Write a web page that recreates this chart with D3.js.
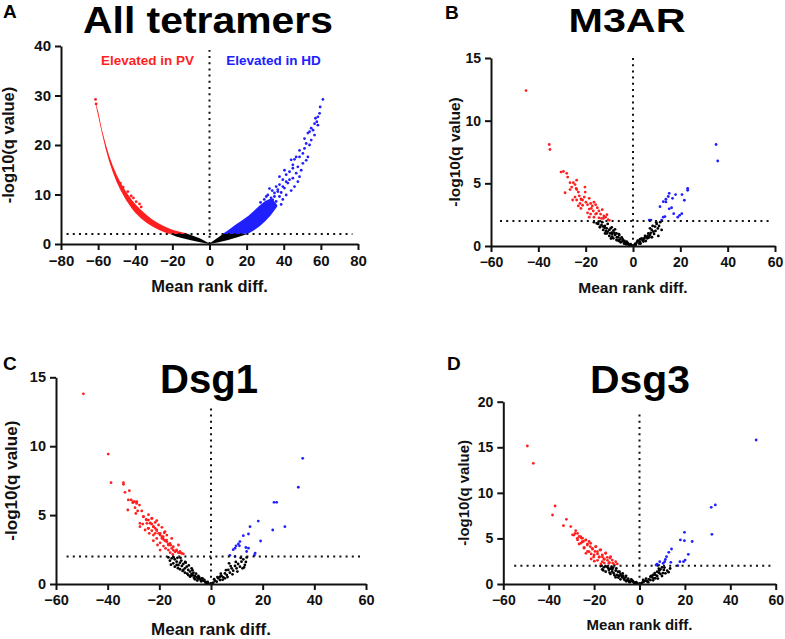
<!DOCTYPE html>
<html>
<head>
<meta charset="utf-8">
<script src="https://cdn.jsdelivr.net/npm/d3@7"></script>
<style>
  body { margin: 0; background: #fff; }
  svg { display: block; font-family: "Liberation Sans", Arial, sans-serif; font-weight: bold; }
</style>
</head>
<body>
<svg id="fig" width="785" height="639"></svg>
<script>
// tick values
const xTicksA = [-80, -60, -40, -20, 0, 20, 40, 60, 80];
const yTicksA = [0, 10, 20, 30, 40];
const xTicksBCD = [-60, -40, -20, 0, 20, 40, 60];
const yTicks15 = [0, 5, 10, 15];
const yTicks20 = [0, 5, 10, 15, 20];

const RED = "#ff1f1f", BLUE = "#2020ff", BLACK = "#000";

// panel A: dense bands, [x, low, high]
const aBlackBand = [[-21, 1.95, 2], [-18, 1.5, 2], [-15, 1.2, 2], [-11.7, 0.9, 2], [-10, 0.75, 1.8], [-5, 0.35, 1.1],
  [0, 0, 0.1], [5, 0.35, 1.4], [7.2, 0.55, 2], [10, 0.8, 2], [15, 1.35, 2], [20, 1.95, 2]];
const aRedBand = [[-61.2, 28.0, 28.4], [-60, 25.9, 26.8], [-58, 22.5, 23.2], [-56, 19.3, 20.3], [-54, 16.6, 17.8],
  [-52, 14.4, 15.7], [-50, 12.5, 14.0], [-48, 10.9, 12.5], [-45, 8.9, 10.6], [-42, 7.2, 9.0], [-40, 6.3, 8.1],
  [-37, 5.2, 6.9], [-34, 4.3, 5.9], [-31, 3.6, 5.0], [-28, 3.0, 4.3], [-25, 2.5, 3.7], [-22, 2.05, 3.2],
  [-20, 2.0, 2.9], [-16, 2.0, 2.5], [-11.5, 2.0, 2.05]];
const aBlueBand = [[7.2, 2, 2.05], [10, 2, 2.8], [14, 2, 3.9], [18, 2, 4.9], [21, 2.1, 5.7], [24, 2.8, 6.7],
  [27, 3.6, 7.8], [30, 4.6, 8.7], [33, 5.8, 9.2], [35, 6.8, 8.6], [36.5, 7.6, 7.9]];
const aRedPoints = [[-61.4, 29.2], [-61.1, 28.3], [-48, 12.3], [-44, 10.6], [-42.2, 9.7], [-39.5, 8.55],
  [-37.7, 8.1], [-36.8, 7.5], [-46.5, 11.5], [-41, 9.3]];
const aBluePoints = [[61.1, 29.2], [59.6, 27.7], [59.3, 26.4], [57.8, 24.7], [56.6, 24.3], [58.4, 24.0],
  [55.8, 23.0], [53.9, 22.7], [56.6, 22.0], [53, 22.4], [54.8, 21.0], [52.1, 20.3], [51.2, 19.3], [48.5, 18.9],
  [53, 17.6], [52.1, 16.9], [45.8, 17.1], [50.3, 16.3], [47.6, 15.6], [44.9, 15.3], [49.4, 14.9], [43.1, 14.6],
  [46.7, 14.3], [41.3, 14.0], [48.5, 13.6], [44.9, 13.3], [39.5, 13.0], [47.6, 12.6], [42.2, 12.3], [37.7, 12.0],
  [45.8, 11.6], [40.4, 11.3], [36.8, 11.0], [44, 10.8], [38.6, 10.4], [35, 10.3], [41.3, 9.9], [37.7, 9.6],
  [33.2, 9.3], [39.5, 9.0], [35.9, 8.6], [30.5, 8.3], [38.6, 8.0], [44.9, 16.0], [43.1, 13.0], [35.9, 11.6],
  [46.7, 17.6], [51.2, 21.3], [53.9, 20.0], [32.3, 7.5], [28.7, 7.2], [34.1, 8.9], [31.4, 9.9], [35.0, 9.6],
  [36.8, 10.6], [32.3, 11.2], [39.5, 11.6], [41.3, 12.6], [37.7, 13.6], [40.4, 14.9], [44.0, 17.0], [48.5, 17.6],
  [50.3, 18.3], [54.8, 23.4], [57.1, 25.4], [58.4, 25.7], [29.5, 9.0], [27.5, 8.4], [33.8, 10.8], [30.6, 9.6]];

// panel B (M3AR)
const bRed = [[-45.2, 12.4], [-35.4, 8.1], [-35.1, 7.7], [-30.4, 5.9], [-29.4, 5.95], [-28.0, 5.8], [-27.6, 5.5],
  [-28.7, 4.25], [-26.6, 5.05], [-25.2, 5.05], [-25.9, 4.7], [-24.5, 4.9], [-26.6, 4.5], [-23.8, 4.5], [-23.1, 4.3],
  [-24.5, 3.9], [-25.5, 3.67], [-22.7, 4.0], [-22.0, 3.75], [-23.8, 3.67], [-21.3, 3.67], [-20.6, 3.9], [-22.4, 3.4],
  [-19.9, 3.5], [-23.1, 3.2], [-19.2, 3.3], [-18.5, 3.8], [-17.9, 3.4], [-21.3, 3.25], [-17.2, 3.2], [-16.5, 3.5],
  [-15.8, 3.3], [-18.5, 2.95], [-16.8, 2.8], [-15.1, 3.05], [-14.4, 2.8], [-17.9, 2.55], [-15.8, 2.55], [-13.7, 2.55],
  [-13.0, 2.9], [-12.3, 2.4], [-16.5, 2.3], [-14.4, 2.25], [-11.6, 2.3], [-18.5, 2.3], [-22.0, 3.0], [-20.2, 4.3],
  [-19.2, 2.65], [-23.8, 5.25], [-20.3, 4.7], [-10.5, 2.1], [-11, 2.5], [-12.5, 2.2], [-10, 2.05], [-15.4, 2.6],
  [-13.3, 2.2], [-17.6, 3.0], [-21.8, 3.7], [-24, 4.6]];
const bBlack = [[-14.7, 1.76], [-13.3, 1.68], [-11.9, 1.6], [-11.1, 1.41], [-14.0, 1.49], [-10.7, 1.76], [-10.0, 1.28],
  [-12.6, 1.28], [-9.0, 1.06], [-8.3, 1.22], [-11.1, 0.99], [-7.6, 0.88], [-10.0, 0.8], [-7.0, 1.0], [-6.2, 0.69],
  [-8.3, 0.61], [-5.5, 0.53], [-4.8, 0.69], [-4.1, 0.43], [-7.0, 0.48], [-3.4, 0.27], [-2.7, 0.35], [-2.0, 0.16],
  [-1.3, 0.08], [-4.8, 0.35], [-2.7, 0.13], [-5.8, 0.88], [-9.0, 1.49], [-7.6, 1.33], [-12.6, 1.55], [-10.7, 1.14],
  [-15.3, 1.8], [-13.9, 1.55], [-9.7, 1.01], [-16.5, 1.9], [-6.5, 0.45], [-3.8, 0.2], [-0.6, 0.03], [-8.8, 0.95],
  [-5.2, 0.3], [-13, 1.9], [-12, 1.45], [-11.5, 1.2], [-9.5, 1.4], [-8.8, 0.75], [-7.9, 1.05], [-6.8, 0.7], [-6, 0.95],
  [-5.9, 0.4], [-4.4, 0.55], [-3.6, 0.4], [-3.1, 0.15], [-2.3, 0.25], [-1.7, 0.1], [-1, 0.15], [-9.3, 0.6],
  [-11.8, 1.0], [-14.5, 1.95],
  [0.85, 0.16], [1.55, 0.27], [2.25, 0.43], [2.96, 0.35], [3.66, 0.61], [4.4, 0.48], [5.1, 0.8],
  [5.8, 0.69], [6.5, 1.0], [7.2, 0.88], [7.9, 1.28], [8.6, 1.14], [7.2, 1.41], [9.3, 1.55], [10.0, 1.76], [8.3, 1.6],
  [12.1, 1.28], [10.7, 0.8], [4.4, 0.35], [6.1, 0.61], [6.9, 0.69], [8.9, 0.96], [0.4, 0.05], [1.2, 0.1], [3.2, 0.2],
  [9.8, 1.9], [11, 1.6], [1.9, 0.4], [2.6, 0.2], [3.9, 0.5], [4.8, 0.62], [5.4, 0.4], [6.2, 0.8], [7.5, 1.05], [8, 0.7],
  [9.5, 1.2], [10.5, 1.4], [11.5, 1.9], [3, 0.55]];
const bBlue = [[6.9, 2.07], [7.6, 2.07], [11.4, 3.14], [12.8, 3.54], [13.9, 3.73], [13.9, 3.52], [14.9, 3.95],
  [15.3, 4.2], [16.7, 3.8], [18.0, 4.1], [20.7, 4.1], [21.7, 3.65], [23.1, 4.45], [23.1, 4.6], [12.8, 2.3],
  [12.1, 2.07], [13.5, 2.35], [15.3, 2.97], [16.3, 3.05], [17.2, 2.58], [18.9, 2.3], [19.7, 2.45], [20.6, 2.58],
  [35.1, 8.1], [35.8, 6.78]];

// panel C (Dsg1)
const cRed = [[-49.4, 13.8], [-39.8, 9.43], [-38.7, 7.35], [-33.9, 7.35], [-33.9, 7.23], [-33.3, 6.65], [-31.6, 6.77],
  [-32.0, 6.1], [-30.9, 6.1], [-29.6, 5.97], [-28.7, 5.97], [-30.3, 5.9], [-32.2, 5.37], [-29.4, 5.54], [-27.7, 5.73],
  [-26.8, 5.3], [-28.4, 5.3], [-26.1, 4.89], [-25.1, 4.68], [-24.2, 4.64], [-23.5, 4.44], [-24.8, 4.4], [-22.9, 4.35],
  [-26.4, 4.35], [-22.3, 4.16], [-24.2, 4.04], [-21.6, 4.04], [-25.5, 3.92], [-21.0, 3.87], [-22.9, 3.87], [-20.3, 3.68],
  [-22.3, 3.55], [-19.7, 3.55], [-19.0, 3.43], [-21.0, 3.31], [-18.4, 3.24], [-22.3, 3.14], [-17.8, 3.14], [-19.7, 2.99],
  [-17.1, 3.06], [-16.5, 2.89], [-18.4, 2.75], [-15.6, 2.82], [-17.6, 2.58], [-15.2, 2.58], [-16.5, 2.46], [-14.6, 2.46],
  [-13.9, 2.34], [-15.8, 2.27], [-13.3, 2.41], [-12.6, 2.27], [-12.0, 2.36], [-11.3, 2.22], [-14.8, 2.14], [-19.7, 2.46],
  [-20.7, 2.83], [-21.6, 4.47], [-21.0, 4.6], [-19.0, 4.11], [-24.2, 5.03], [-22.9, 4.76], [-27.5, 4.16], [-29.1, 5.12],
  [-23.9, 3.68], [-17.1, 3.55], [-18.1, 3.72], [-24.9, 4.64], [-23.6, 4.4], [-22.3, 4.16], [-21.0, 3.92], [-19.7, 3.68],
  [-18.5, 3.43], [-17.2, 3.19], [-15.9, 2.95], [-14.6, 2.71], [-13.3, 2.47], [-12.0, 2.27], [-10.7, 2.18], [-24.3, 4.04],
  [-21.6, 3.68], [-19.0, 3.31], [-16.5, 2.83], [-13.9, 2.35], [-26.2, 4.88], [-27.5, 4.4], [-22.9, 4.76], [-20.3, 4.28],
  [-17.8, 3.8], [-15.2, 3.31], [-12.6, 2.83], [-28.8, 5.85], [-30.1, 5.97]];
const cBlack = [[-16.5, 1.93], [-15.2, 1.86], [-14.0, 1.79], [-15.9, 1.69], [-13.3, 1.62], [-14.6, 1.5], [-12.0, 1.55],
  [-12.6, 1.38], [-11.3, 1.31], [-10.7, 1.45], [-14.0, 1.26], [-10.1, 1.14], [-9.4, 1.26], [-12.0, 1.07], [-8.8, 1.02],
  [-8.1, 0.9], [-10.1, 0.82], [-7.5, 0.73], [-6.8, 0.82], [-6.2, 0.58], [-8.8, 0.65], [-5.5, 0.48], [-4.9, 0.58],
  [-4.3, 0.34], [-3.6, 0.41], [-6.2, 0.34], [-3.0, 0.24], [-2.3, 0.17], [-1.7, 0.1], [-1.0, 0.05], [-7.5, 1.14],
  [-10.7, 1.02], [-13.3, 1.38], [-8.1, 0.53], [-11.5, 1.7], [-9.8, 1.55], [-13.0, 1.9], [-7.0, 0.62], [-5.0, 0.4],
  [-15.5, 1.4], [-14.5, 1.95], [-12.8, 1.15], [-11.8, 1.9], [-11, 0.95], [-10, 1.6], [-9.2, 0.75], [-8.6, 1.35],
  [-7.8, 0.6], [-7.2, 1.0], [-6.6, 0.45], [-5.8, 0.75], [-5.3, 0.25], [-4.6, 0.5], [-3.8, 0.2], [-3.3, 0.4],
  [-2.6, 0.3], [-2, 0.08], [-1.3, 0.15],
  [0.9, 0.1], [1.5, 0.24], [2.2, 0.17], [2.8, 0.41], [3.5, 0.29], [4.1, 0.58], [4.8, 0.48], [5.4, 0.77], [6.1, 0.65],
  [6.7, 1.02], [7.3, 0.82], [8.0, 1.14], [8.6, 0.97], [9.3, 1.31], [9.9, 1.14], [10.5, 1.45], [11.2, 1.26], [11.8, 1.62],
  [12.5, 1.79], [13.1, 1.38], [13.8, 1.93], [12.2, 1.14], [5.4, 0.41], [3.5, 0.53], [0.4, 0.03], [1.2, 0.35],
  [2.5, 0.5], [3.8, 0.75], [4.5, 0.3], [5.8, 1.0], [6.4, 0.5], [7.6, 1.3], [8.3, 0.7], [9.6, 1.6], [10.2, 0.9],
  [11.5, 1.9], [12.8, 1.2], [13.5, 1.6], [7, 1.5]];
const cBlue = [[35.5, 9.12], [33.8, 7.02], [24.4, 5.93], [25.4, 5.93], [18.3, 4.57], [23.9, 3.92], [28.6, 4.16],
  [19.2, 3.12], [15.1, 4.16], [14.5, 3.63], [12.5, 3.51], [11.2, 3.08], [10.6, 2.91], [9.7, 2.77], [11.0, 2.77],
  [9.3, 2.6], [13.5, 2.65], [14.5, 2.6], [13.8, 2.36], [8.6, 2.49], [7.3, 2.08], [9.3, 2.0], [16.8, 2.08], [17.1, 2.24]];

// panel D (Dsg3)
const dRed = [[-49.4, 15.14], [-46.8, 13.24], [-37.2, 8.56], [-38.3, 7.57], [-32.2, 7.1], [-33.5, 6.4], [-30.3, 6.3],
  [-28.1, 5.85], [-28.4, 5.55], [-29.5, 5.4], [-26.6, 5.21], [-25.5, 5.03], [-27.3, 4.84], [-24.7, 4.66], [-23.6, 4.84],
  [-25.8, 4.48], [-22.9, 4.4], [-21.7, 4.11], [-24.4, 3.93], [-20.7, 3.82], [-22.9, 3.57], [-19.6, 3.57], [-21.3, 3.3],
  [-18.5, 3.3], [-17.7, 3.0], [-20.2, 2.96], [-16.3, 2.96], [-15.5, 2.74], [-18.5, 2.6], [-14.1, 2.6], [-13.3, 2.38],
  [-15.5, 2.3], [-11.8, 2.3], [-11.1, 2.12], [-17.0, 2.2], [-21.3, 2.74], [-25.1, 5.03], [-19.2, 4.11], [-27.3, 5.55],
  [-22.2, 4.66], [-17.4, 3.75], [-14.9, 3.4], [-23.6, 3.37], [-13.0, 2.85], [-19.9, 2.5], [-28.9, 5.37], [-27.4, 5.01],
  [-25.9, 5.19], [-25.2, 4.64], [-23.7, 4.82], [-23.0, 4.28], [-21.5, 4.46], [-20.8, 3.91], [-19.3, 4.1], [-18.5, 3.55],
  [-17.1, 3.73], [-16.4, 3.18], [-14.9, 3.37], [-14.2, 2.93], [-12.7, 3.0], [-12.0, 2.63], [-10.5, 2.45], [-15.6, 2.71],
  [-17.8, 2.93], [-20.0, 3.18], [-22.2, 3.55], [-24.4, 4.02], [-26.6, 4.39], [-9.8, 2.2], [-13.5, 2.27], [-16.4, 2.45]];
const dBlack = [[-17.1, 1.97], [-15.7, 1.83], [-14.2, 1.9], [-16.4, 1.61], [-13.5, 1.54], [-12.8, 1.68], [-12.0, 1.35],
  [-14.9, 1.35], [-11.3, 1.17], [-10.5, 1.46], [-9.8, 0.99], [-12.8, 1.1], [-9.1, 0.88], [-8.4, 1.1], [-7.6, 0.73],
  [-10.5, 0.73], [-6.9, 0.59], [-6.2, 0.73], [-5.4, 0.44], [-8.4, 0.51], [-4.7, 0.37], [-4.0, 0.26], [-3.2, 0.37],
  [-2.5, 0.18], [-1.8, 0.11], [-1.0, 0.07], [-9.5, 1.35], [-11.6, 1.8], [-13.8, 1.75], [-7.2, 0.9], [-5.8, 0.3],
  [-16, 1.5], [-15, 1.95], [-13.2, 1.25], [-12.3, 1.9], [-11, 0.95], [-10.2, 1.7], [-9.3, 0.7], [-8.8, 1.35], [-8, 0.9],
  [-7.4, 1.15], [-6.6, 0.45], [-5.9, 0.9], [-5, 0.6], [-4.4, 0.2], [-3.6, 0.5], [-2.9, 0.3], [-2.2, 0.08], [-1.4, 0.2],
  [-12, 1.6],
  [1.2, 0.15], [1.9, 0.26], [2.6, 0.37], [3.4, 0.29], [4.1, 0.51], [4.8, 0.44], [5.6, 0.73], [6.3, 0.62], [7.0, 0.99],
  [7.8, 0.88], [8.5, 1.24], [9.2, 1.1], [7.0, 0.62], [9.2, 1.61], [9.9, 0.88], [10.7, 1.54], [11.4, 1.17], [12.2, 1.46],
  [8.5, 1.68], [9.9, 1.83], [7.8, 1.35], [4.8, 0.8], [0.5, 0.05], [1.6, 0.45], [2.9, 0.6], [3.8, 0.2], [5.2, 0.9],
  [6, 0.4], [6.7, 1.2], [8.1, 0.6], [8.8, 1.5], [10.3, 1.2], [11, 1.8], [12.8, 1.3], [13.5, 1.7], [6, 1.0]];
const dBlue = [[51.4, 15.8], [33.4, 8.67], [31.6, 8.41], [31.9, 5.45], [19.8, 5.67], [18.0, 4.83], [19.8, 4.75],
  [23.2, 4.66], [21.5, 3.26], [14.1, 3.84], [12.9, 3.48], [11.9, 3.0], [11.4, 2.7], [11.1, 2.45], [10.4, 2.27],
  [8.9, 2.45], [7.7, 2.19], [7.3, 2.08], [19.4, 2.45], [20.1, 2.63], [16.9, 2.01], [17.8, 2.45], [13.8, 2.38], [8.5, 2.08]];

const svg = d3.select("#fig");

function drawPanel(p) {
  const g = svg.append("g");
  const x = d3.scaleLinear().domain(p.xDomain).range(p.xRange);
  const y = d3.scaleLinear().domain(p.yDomain).range(p.yRange);

  (p.bands || []).forEach(b => {
    g.append("path").datum(b.data)
      .attr("fill", b.color)
      .attr("d", d3.area().x(d => x(d[0])).y0(d => y(d[1])).y1(d => y(d[2])));
  });

  p.series.forEach(s => {
    g.append("g").selectAll("circle").data(s.data).join("circle")
      .attr("cx", d => x(d[0])).attr("cy", d => y(d[1]))
      .attr("r", 1.4).attr("fill", s.color);
  });

  // threshold lines
  g.append("line")
    .attr("x1", x(p.hLine[0])).attr("x2", x(p.hLine[1]))
    .attr("y1", y(2)).attr("y2", y(2))
    .attr("stroke", "#111").attr("stroke-width", 2).attr("stroke-dasharray", "2,4.2");
  g.append("line")
    .attr("x1", x(0)).attr("x2", x(0))
    .attr("y1", y(0)).attr("y2", y(p.vTop))
    .attr("stroke", "#111").attr("stroke-width", 2).attr("stroke-dasharray", "2,4.2");

  const xa = g.append("g").attr("transform", `translate(0,${y(0)})`)
    .call(d3.axisBottom(x).tickValues(p.xTicks).tickSize(6).tickSizeOuter(0).tickPadding(5));
  const ya = g.append("g").attr("transform", `translate(${x(p.xDomain[0])},0)`)
    .call(d3.axisLeft(y).tickValues(p.yTicks).tickSize(6).tickSizeOuter(0).tickPadding(4));
  [xa, ya].forEach(a => {
    a.select(".domain").attr("stroke", "#111").attr("stroke-width", 2);
    a.selectAll(".tick line").attr("stroke", "#111").attr("stroke-width", 2);
    a.selectAll(".tick text").attr("fill", "#111")
      .style("font-size", p.tickFont + "px").style("font-family", "Liberation Sans, Arial, sans-serif")
      .style("font-weight", "bold");
  });

  const xMid = (p.xRange[0] + p.xRange[1]) / 2;
  const yMid = (p.yRange[0] + p.yRange[1]) / 2;
  g.append("text").attr("x", xMid).attr("y", p.xTitleY)
    .attr("text-anchor", "middle").attr("font-size", p.axisFont).attr("fill", "#111")
    .text("Mean rank diff.");
  g.append("text").attr("transform", `translate(${p.yTitleX},${yMid}) rotate(-90)`)
    .attr("text-anchor", "middle").attr("font-size", p.axisFont).attr("fill", "#111")
    .text("-log10(q value)");

  g.append("text").attr("x", p.title.x).attr("y", p.title.y)
    .attr("text-anchor", "middle").attr("font-size", p.title.size)
    .attr("textLength", p.title.width).attr("lengthAdjust", "spacingAndGlyphs")
    .attr("fill", "#000").text(p.title.text);
  g.append("text").attr("x", p.label.x).attr("y", p.label.y)
    .attr("font-size", 19).attr("fill", "#000").text(p.label.text);

  (p.notes || []).forEach(n => {
    g.append("text").attr("x", n.x).attr("y", n.y).attr("text-anchor", "middle")
      .attr("font-size", 13.5).attr("fill", n.color).text(n.text);
  });
}

drawPanel({
  xDomain: [-80, 80], xRange: [61, 358], yDomain: [0, 40], yRange: [244, 46],
  xTicks: xTicksA, yTicks: yTicksA, hLine: [-77, 77], vTop: 39.2,
  tickFont: 15, axisFont: 16.5, xTitleY: 292, yTitleX: 14,
  title: { text: "All tetramers", x: 208, y: 33, size: 36.5, width: 250 },
  label: { text: "A", x: 3, y: 18 },
  bands: [{ data: aBlackBand, color: BLACK }, { data: aRedBand, color: RED }, { data: aBlueBand, color: BLUE }],
  series: [{ data: aRedPoints, color: RED }, { data: aBluePoints, color: BLUE }],
  notes: [{ text: "Elevated in PV", x: 147.5, y: 65, color: RED }, { text: "Elevated in HD", x: 273.5, y: 65, color: BLUE }]
});

drawPanel({
  xDomain: [-60, 60], xRange: [491, 775], yDomain: [0, 15], yRange: [246, 58],
  xTicks: xTicksBCD, yTicks: yTicks15, hLine: [-56.2, 58], vTop: 15,
  tickFont: 14, axisFont: 15.5, xTitleY: 293, yTitleX: 460,
  title: { text: "M3AR", x: 627, y: 32, size: 34, width: 117 },
  label: { text: "B", x: 445, y: 19 },
  series: [{ data: bBlack, color: BLACK }, { data: bRed, color: RED }, { data: bBlue, color: BLUE }]
});

drawPanel({
  xDomain: [-60, 60], xRange: [56, 366], yDomain: [0, 15], yRange: [584, 377.3],
  xTicks: xTicksBCD, yTicks: yTicks15, hLine: [-55.9, 58], vTop: 12.75,
  tickFont: 14.5, axisFont: 17, xTitleY: 635, yTitleX: 17,
  title: { text: "Dsg1", x: 209, y: 393, size: 40, width: 98 },
  label: { text: "C", x: 3, y: 370 },
  series: [{ data: cBlack, color: BLACK }, { data: cRed, color: RED }, { data: cBlue, color: BLUE }]
});

drawPanel({
  xDomain: [-60, 60], xRange: [503.3, 775.7], yDomain: [0, 20], yRange: [584, 401.7],
  xTicks: xTicksBCD, yTicks: yTicks20, hLine: [-55.2, 58.3], vTop: 18.9,
  tickFont: 14, axisFont: 15, xTitleY: 630, yTitleX: 469,
  title: { text: "Dsg3", x: 640, y: 393, size: 39, width: 100 },
  label: { text: "D", x: 447, y: 370 },
  series: [{ data: dBlack, color: BLACK }, { data: dRed, color: RED }, { data: dBlue, color: BLUE }]
});
</script>
</body>
</html>
